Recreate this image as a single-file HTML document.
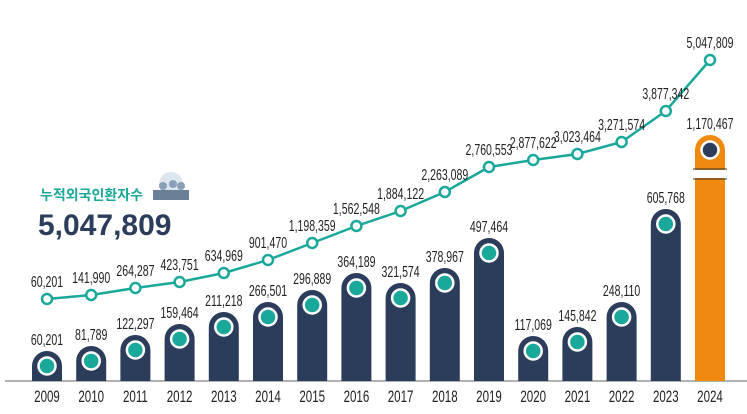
<!DOCTYPE html>
<html><head><meta charset="utf-8"><style>
html,body{margin:0;padding:0;background:#fff;width:747px;height:414px;overflow:hidden}
svg{display:block}
.n{font-family:"Liberation Sans",sans-serif;font-size:16px;fill:#222;text-anchor:middle}
.y{font-family:"Liberation Sans",sans-serif;font-size:17px;fill:#222;text-anchor:middle}
</style></head><body>
<svg width="747" height="414" viewBox="0 0 747 414">
<text x="40" y="200" font-family="'Liberation Sans','Noto Sans CJK KR',sans-serif" font-size="14" font-weight="bold" fill="#1aa89a">누적외국인환자수</text>
<g fill="#8aa0b8"><circle cx="171" cy="184" r="12" fill="#dde6ee"/><rect x="153" y="190" width="36" height="10" fill="#6b7f96"/><circle cx="163" cy="186" r="4"/><circle cx="173" cy="184" r="4"/><circle cx="181" cy="186" r="4"/></g>
<text x="38" y="235" font-family="'Liberation Sans',sans-serif" font-size="30" font-weight="bold" fill="#2b3d5b">5,047,809</text>
<line x1="5" y1="381" x2="747" y2="381" stroke="#999" stroke-width="1.5"/>
<g id="bars"></g>
</svg>
<script>
var years=[2009,2010,2011,2012,2013,2014,2015,2016,2017,2018,2019,2020,2021,2022,2023,2024];
var bv=["60,201","81,789","122,297","159,464","211,218","266,501","296,889","364,189","321,574","378,967","497,464","117,069","145,842","248,110","605,768","1,170,467"];
var bt=[351,346,335,324,312,302,290,273,283,268,238,336,327,302,209,135];
var lv=["60,201","141,990","264,287","423,751","634,969","901,470","1,198,359","1,562,548","1,884,122","2,263,089","2,760,553","2,877,622","3,023,464","3,271,574","3,877,342","5,047,809"];
var ly=[299,295,288,282,273,260,243,226,211,192,167,160,154,142,111,60];
var g=document.getElementById("bars"),s="";
var xs=years.map(function(y,i){return 47+i*44.2;});
function T(cls,x,y,t,k){return '<text class="'+cls+'" transform="translate('+x+','+y+') scale('+k+',1)">'+t+'</text>';}
for(var i=0;i<16;i++){
 var x=xs[i],t=bt[i],c=i==15?"#ef8a0f":"#2b3d5b",w=30;
 s+='<path d="M'+(x-w/2)+' 381 V'+(t+w/2)+' A'+w/2+' '+w/2+' 0 0 1 '+(x+w/2)+' '+(t+w/2)+' V381 Z" fill="'+c+'"/>';
 s+='<circle cx="'+x+'" cy="'+(t+15)+'" r="8.5" fill="'+(i==15?"#2b3d5b":"#1aa89a")+'" stroke="#fff" stroke-width="2.5"/>';
 s+=T("n",x,t-6,bv[i],0.66);
 s+=T("y",x,402,years[i],0.68);
}
s+='<rect x="'+(xs[15]-16)+'" y="170" width="32" height="8" fill="#fff"/><line x1="'+(xs[15]-17)+'" y1="169" x2="'+(xs[15]+17)+'" y2="169" stroke="#333" stroke-width="1"/><line x1="'+(xs[15]-17)+'" y1="179" x2="'+(xs[15]+17)+'" y2="179" stroke="#333" stroke-width="1"/>';
var pts=xs.map(function(x,i){return x+","+ly[i];}).join(" ");
s+='<polyline points="'+pts+'" fill="none" stroke="#1aa89a" stroke-width="2.5"/>';
for(var i=0;i<16;i++){
 s+='<circle cx="'+xs[i]+'" cy="'+ly[i]+'" r="5" fill="#fff" stroke="#1aa89a" stroke-width="2.5"/>';
 s+=T("n",xs[i],ly[i]-12,lv[i],0.66);
}
g.innerHTML=s;
</script>
</body></html>
